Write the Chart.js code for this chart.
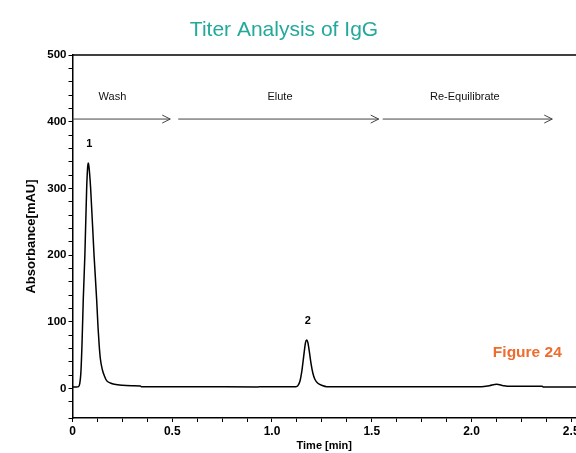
<!DOCTYPE html>
<html>
<head>
<meta charset="utf-8">
<title>Titer Analysis of IgG</title>
<script src="https://cdn.jsdelivr.net/npm/chart.js@4"></script>
<style>
  html, body { margin: 0; padding: 0; background: #fff; overflow: hidden; }
  #wrap { width: 576px; height: 453px; position: relative; }
</style>
</head>
<body>
<div id="wrap"><canvas id="chromChart"></canvas></div>
<script>
// Chromatogram trace: retention time (min) and detector signal (mAU)
const timeMin = [
  0, 0.02, 0.03, 0.036, 0.042, 0.048, 0.054, 0.062, 0.071, 0.076, 0.079, 0.082,
  0.091, 0.108, 0.121, 0.128, 0.134, 0.14, 0.15, 0.16, 0.171, 0.19, 0.21, 0.25,
  0.3, 0.34, 0.345, 0.6, 0.93, 0.935, 1.12, 1.13, 1.14, 1.15, 1.16, 1.168,
  1.174, 1.18, 1.188, 1.196, 1.205, 1.215, 1.23, 1.25, 1.275, 1.6, 2.05, 2.09,
  2.126, 2.16, 2.19, 2.355, 2.36, 2.524
];
const absorbance = [
  2.5, 2.5, 3, 7, 24, 70, 134, 200, 300, 332, 338, 334,
  300, 200, 134, 92, 64, 44, 28, 19, 12, 8.5, 6.5, 5,
  4.5, 4, 3, 3, 2.5, 3, 3, 4.5, 11, 27, 51, 69,
  73, 69, 54, 37, 23, 14, 8, 5, 3, 3, 3, 4.5,
  6.5, 4.5, 3.5, 3.5, 2.5, 2.5
];

// Method steps (start / end in min) and peak numbers
const stepNames = ['Wash', 'Elute', 'Re-Equilibrate'];
const stepStart = [0.0, 0.53, 1.555];
const stepEnd = [0.49, 1.535, 2.405];
const stepLabelAt = [0.2, 1.04, 1.967];
const peakNames = ['1', '2'];
const peakTimes = [0.079, 1.174];

const xTicks = [0, 0.5, 1.0, 1.5, 2.0, 2.5];
const yTicks = [0, 100, 200, 300, 400, 500];

const FONT = '"Liberation Sans", Arial, Helvetica, sans-serif';

const points = timeMin.map((t, i) => ({ x: t, y: absorbance[i] }));

function near(v, list) {
  return list.some(t => Math.abs(v - t) < 1e-6);
}

// heading, step arrows, peak numbers, figure tag and the upper frame line
const notes = {
  id: 'notes',
  afterDatasetsDraw(chart) {
    const { ctx, chartArea, scales: { x, y } } = chart;
    ctx.save();

    ctx.font = '21px ' + FONT;
    ctx.fillStyle = '#22a99b';
    ctx.textAlign = 'center';
    ctx.textBaseline = 'middle';
    ctx.fillText('Titer Analysis of IgG', 284, 30);

    ctx.strokeStyle = '#000';
    ctx.lineWidth = 1.5;
    ctx.beginPath();
    ctx.moveTo(chartArea.left, chartArea.top);
    ctx.lineTo(chartArea.right, chartArea.top);
    ctx.stroke();

    const arrowY = y.getPixelForValue(404);
    const textY = y.getPixelForValue(437);
    ctx.font = '11px ' + FONT;
    ctx.fillStyle = '#111';
    ctx.strokeStyle = '#444';
    ctx.lineWidth = 1;
    stepNames.forEach((name, i) => {
      const x0 = x.getPixelForValue(stepStart[i]);
      const x1 = x.getPixelForValue(stepEnd[i]);
      ctx.beginPath();
      ctx.moveTo(x0, arrowY);
      ctx.lineTo(x1, arrowY);
      ctx.moveTo(x1 - 8, arrowY - 4);
      ctx.lineTo(x1, arrowY);
      ctx.lineTo(x1 - 8, arrowY + 4);
      ctx.stroke();
      ctx.fillText(name, x.getPixelForValue(stepLabelAt[i]), textY);
    });

    ctx.font = 'bold 11px ' + FONT;
    ctx.fillStyle = '#000';
    peakNames.forEach((name, i) => {
      const idx = timeMin.indexOf(peakTimes[i]);
      const px = x.getPixelForValue(peakTimes[i]);
      const py = y.getPixelForValue(absorbance[idx]) - 19;
      ctx.fillText(name, px + 1, py);
    });

    ctx.font = 'bold 15.5px ' + FONT;
    ctx.fillStyle = '#ef6c2f';
    ctx.fillText('Figure 24', x.getPixelForValue(2.28), y.getPixelForValue(54));
    ctx.restore();
  }
};

new Chart(document.getElementById('chromChart'), {
  type: 'line',
  data: {
    datasets: [{
      data: points,
      borderColor: '#000',
      borderWidth: 1.5,
      pointRadius: 0,
      fill: false,
      cubicInterpolationMode: 'monotone'
    }]
  },
  options: {
    responsive: true,
    maintainAspectRatio: false,
    animation: false,
    layout: { padding: { top: 55, left: 0, right: 0, bottom: 0 } },
    plugins: {
      legend: { display: false },
      tooltip: { enabled: false },
      title: { display: false }
    },
    scales: {
      x: {
        type: 'linear',
        min: 0,
        max: 2.524,
        // minor ticks every 0.125 min, running past the right edge up to 2.5
        afterBuildTicks(scale) {
          const ticks = [];
          for (let i = 0; i <= 20; i++) ticks.push({ value: i * 0.125 });
          scale.ticks = ticks;
        },
        afterFit(scale) {
          scale.height = 35;
          scale.paddingRight = 0;
        },
        border: { color: '#000', width: 1.5 },
        grid: { drawOnChartArea: false, color: '#000', tickLength: 4 },
        ticks: {
          autoSkip: false,
          maxRotation: 0,
          padding: 2,
          color: '#000',
          font: { family: FONT, size: 12, weight: 'bold' },
          callback: v => near(v, xTicks) ? (v === 0 ? '0' : v.toFixed(1)) : ''
        },
        title: {
          display: true,
          text: 'Time [min]',
          color: '#000',
          font: { family: FONT, size: 11, weight: 'bold' },
          padding: { top: 0, bottom: 0 }
        }
      },
      y: {
        min: -44,
        max: 500,
        afterFit(scale) { scale.width = 72.5; },
        border: { color: '#000', width: 1.5 },
        grid: { drawOnChartArea: false, color: '#000', tickLength: 4 },
        ticks: {
          stepSize: 20,
          autoSkip: false,
          padding: 2,
          color: '#000',
          font: { family: FONT, size: 11.5, weight: 'bold' },
          callback: v => near(v, yTicks) ? String(v) : ''
        },
        title: {
          display: true,
          text: 'Absorbance[mAU]',
          color: '#000',
          font: { family: FONT, size: 13, weight: 'bold' },
          padding: { top: 24, bottom: 0 }
        }
      }
    }
  },
  plugins: [notes]
});
</script>
</body>
</html>
